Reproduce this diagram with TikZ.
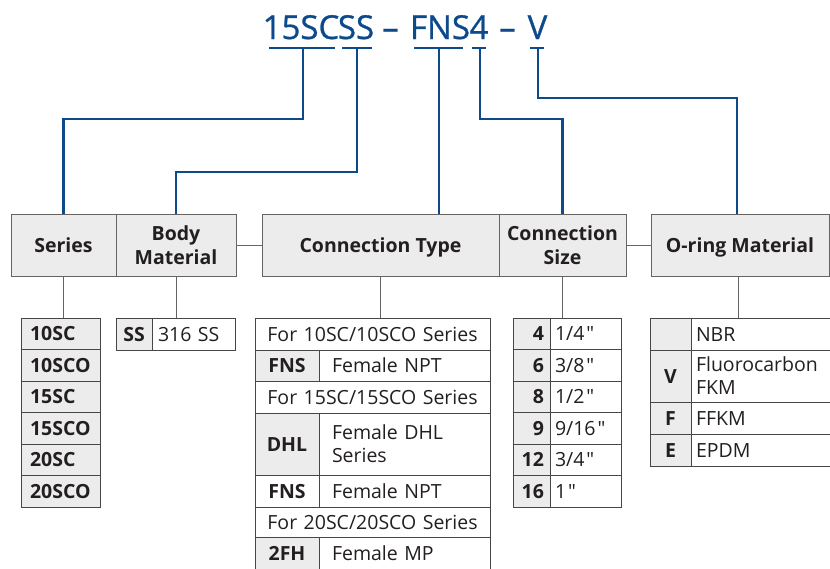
\documentclass[tikz,border=0pt]{standalone}
\usepackage{fontspec}
\setmainfont{Open Sans}
\newfontfamily\qfont{Open Sans}[Ligatures=TeXOff]
\definecolor{tblue}{RGB}{12,74,140}
\definecolor{hgray}{RGB}{236,236,236}
\definecolor{hline}{RGB}{100,100,100}
\definecolor{tline}{RGB}{70,70,70}
\definecolor{tx}{RGB}{35,31,32}
\newcommand\inch{\kern2pt{\qfont"}}
% \tcell{options}{name}{x}{y}{w}{h}{pad}{text}
\newcommand\tcell[8]{%
  \pgfmathsetmacro\tcw{#5-2*#7}%
  \node[#1, minimum width=#5pt, minimum height=#6pt, inner xsep=#7pt, text width=\tcw pt] (#2) at ({#3+#5/2},{#4+#6/2}) {#8};}
\begin{document}
\begin{tikzpicture}[x=1pt,y=-1pt,
  hdr/.style={draw=hline, fill=hgray, line width=0.9pt, text=tx, font=\bfseries\fontsize{19.5}{24}\selectfont, align=center, inner sep=0pt, text height=14pt, text depth=0pt},
  cell/.style={draw=tline, line width=0.9pt, fill=white, text=tx, font=\fontsize{19.5}{23}\selectfont, inner ysep=0pt, text height=14pt, text depth=0pt},
  code/.style={cell, fill=hgray, font=\bfseries\fontsize{19.5}{23}\selectfont},
  twoline/.style={text depth=23pt},
  bl/.style={draw=tblue, line width=2.2pt},
  conn/.style={draw=hline, line width=0.9pt},
  ttl/.style={text=tblue, font=\fontsize{33}{36}\selectfont\addfontfeature{FakeBold=0.8}, inner sep=0pt, anchor=base}]
\useasboundingbox (0,0) rectangle (830,568);
\clip (0,0) rectangle (830,568);
% title
\node[ttl] (t1) at (301,39) {15SC};
\node[ttl] (t2) at (356,39) {SS};
\node[ttl] (t3) at (390.5,39) {–};
\node[ttl] (t4) at (440,39) {FNS};
\node[ttl] (t5) at (479,39) {4};
\node[ttl] (t6) at (507.5,39) {–};
\node[ttl] (t7) at (537.5,39) {V};
% underline coordinates
\coordinate (a1) at (269,48); \coordinate (b1) at (335,48); \coordinate (s1) at (303,48);
\coordinate (a2) at (342,48); \coordinate (b2) at (372,48); \coordinate (s2) at (357,48);
\coordinate (a3) at (414,48); \coordinate (b3) at (463,48); \coordinate (s3) at (439,48);
\coordinate (a4) at (472,48); \coordinate (b4) at (486,48); \coordinate (s4) at (480,48);
\coordinate (a5) at (530,48); \coordinate (b5) at (544,48); \coordinate (s5) at (538,48);
% headers
\node[hdr, minimum width=105pt, minimum height=62pt] (series) at (63.5,245) {Series};
\node[hdr, minimum width=120pt, minimum height=62pt, text height=38pt] (body) at (176,245) {Body\\Material};
\node[hdr, minimum width=237pt, minimum height=62pt] (ctype) at (380.5,245) {Connection Type};
\node[hdr, minimum width=127pt, minimum height=62pt, text height=38pt] (csize) at (562.5,245) {Connection\\Size};
\node[hdr, minimum width=178pt, minimum height=62pt] (oring) at (740,245) {O-ring Material};
% blue connectors
\foreach \i in {1,...,5} {\draw[bl] (a\i) -- (b\i);}
\draw[bl] (s1) -- ++(0,71) -| (series.north);
\draw[bl] (s2) -- ++(0,124) -| (body.north);
\draw[bl] (s3) -- (s3 |- ctype.north);
\draw[bl] (s4) -- ++(0,71) -| (csize.north);
\draw[bl] (s5) -- ++(0,50) -| ([xshift=-3pt]oring.north);
% header links
\draw[conn] (body.east) -- (ctype.west);
\draw[conn] (csize.east) -- (oring.west);
% series list
\tcell{code, align=left}{sr1}{21}{318}{79}{31.5}{9}{10SC}
\tcell{code, align=left}{sr2}{21}{349.5}{79}{31.5}{9}{10SCO}
\tcell{code, align=left}{sr3}{21}{381}{79}{31.5}{9}{15SC}
\tcell{code, align=left}{sr4}{21}{412.5}{79}{31.5}{9}{15SCO}
\tcell{code, align=left}{sr5}{21}{444}{79}{31.5}{9}{20SC}
\tcell{code, align=left}{sr6}{21}{475.5}{79}{31.5}{9}{20SCO}
% body material
\tcell{code, align=center}{bm1}{116}{318}{36}{32}{2}{SS}
\tcell{cell, align=left}{bm2}{152}{318}{83}{32}{6}{316 SS}
% connection type
\tcell{cell, align=center}{ct1}{255}{318}{235}{32}{4}{For 10SC/10SCO Series}
\tcell{code, align=center}{ct2c}{255}{350}{64}{31}{4}{FNS}
\tcell{cell, align=left}{ct2v}{319}{350}{171}{31}{13}{Female NPT}
\tcell{cell, align=center}{ct3}{255}{381}{235}{32}{4}{For 15SC/15SCO Series}
\tcell{code, align=center}{ct4c}{255}{413}{64}{62}{4}{DHL}
\tcell{cell, twoline, align=left}{ct4v}{319}{413}{171}{62}{13}{Female DHL\\Series}
\tcell{code, fill=white, align=center}{ct5c}{255}{475}{64}{32}{4}{FNS}
\tcell{cell, align=left}{ct5v}{319}{475}{171}{32}{13}{Female NPT}
\tcell{cell, align=center}{ct6}{255}{507}{235}{30}{4}{For 20SC/20SCO Series}
\tcell{code, align=center}{ct7c}{255}{537}{64}{32}{4}{2FH}
\tcell{cell, align=left}{ct7v}{319}{537}{171}{32}{13}{Female MP}
% connection size
\tcell{code, align=right}{cs1c}{513}{318}{37}{31.5}{6}{4}
\tcell{cell, align=left}{cs1v}{550}{318}{71}{31.5}{5}{1/4\inch}
\tcell{code, align=right}{cs2c}{513}{349.5}{37}{31.5}{6}{6}
\tcell{cell, align=left}{cs2v}{550}{349.5}{71}{31.5}{5}{3/8\inch}
\tcell{code, align=right}{cs3c}{513}{381}{37}{31.5}{6}{8}
\tcell{cell, align=left}{cs3v}{550}{381}{71}{31.5}{5}{1/2\inch}
\tcell{code, align=right}{cs4c}{513}{412.5}{37}{31.5}{6}{9}
\tcell{cell, align=left}{cs4v}{550}{412.5}{71}{31.5}{5}{9/16\inch}
\tcell{code, align=right}{cs5c}{513}{444}{37}{31.5}{6}{12}
\tcell{cell, align=left}{cs5v}{550}{444}{71}{31.5}{5}{3/4\inch}
\tcell{code, align=right}{cs6c}{513}{475.5}{37}{31.5}{6}{16}
\tcell{cell, align=left}{cs6v}{550}{475.5}{71}{31.5}{5}{1\inch}
% o-ring material
\tcell{code, align=center}{om1c}{650}{318}{41}{32}{3}{}
\tcell{cell, align=left}{om1v}{691}{318}{142}{32}{5}{NBR}
\tcell{code, align=center}{om2c}{650}{350}{41}{52}{3}{V}
\tcell{cell, twoline, align=left}{om2v}{691}{350}{142}{52}{5}{Fluorocarbon\\FKM}
\tcell{code, align=center}{om3c}{650}{402}{41}{32}{3}{F}
\tcell{cell, align=left}{om3v}{691}{402}{142}{32}{5}{FFKM}
\tcell{code, align=center}{om4c}{650}{434}{41}{32}{3}{E}
\tcell{cell, align=left}{om4v}{691}{434}{142}{32}{5}{EPDM}
% stems
\draw[conn] (series.south) -- (series.south |- sr1.north);
\draw[conn] (body.south) -- (body.south |- bm1.north);
\draw[conn] (ctype.south) -- (ctype.south |- ct1.north);
\draw[conn] (csize.south) -- (csize.south |- cs1c.north);
\draw[conn] ([xshift=-2pt]oring.south) -- ([xshift=-2pt]oring.south |- om1c.north);
\end{tikzpicture}
\end{document}
